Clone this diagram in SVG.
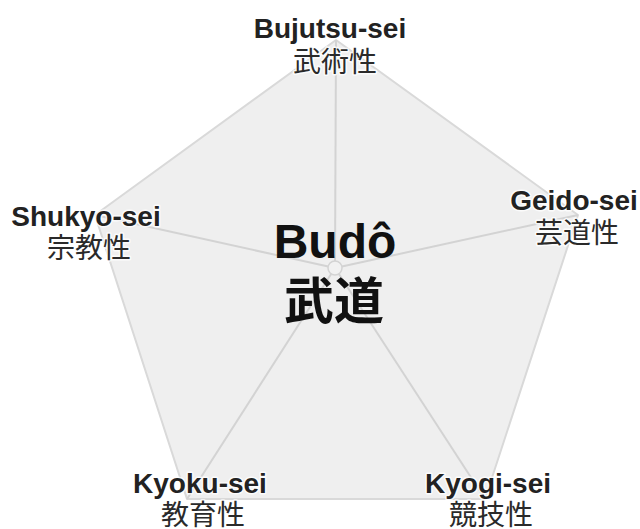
<svg xmlns="http://www.w3.org/2000/svg" width="640" height="529" viewBox="0 0 640 529">
  <style>
    .bg { fill: #ffffff; }
    .pent { fill: #efefef; stroke: #d9d9d9; stroke-width: 2; stroke-linejoin: round; }
    .spoke { stroke: #d3d3d3; stroke-width: 2; fill: none; }
    .hub { fill: #f1f1f1; stroke: #d3d3d3; stroke-width: 1.5; }
    .en { font-family: "Liberation Sans", Arial, sans-serif; font-weight: bold; font-size: 28px; fill: #222222; text-anchor: middle; paint-order: stroke; stroke: #ffffff; stroke-opacity: 0.8; stroke-width: 3; stroke-linejoin: round; }
    .jp { font-family: "Noto Sans CJK JP", "Noto Sans CJK SC", sans-serif; font-size: 28px; fill: #2a2a2a; text-anchor: middle; paint-order: stroke; stroke: #ffffff; stroke-opacity: 0.8; stroke-width: 3; stroke-linejoin: round; }
    .title-en { font-family: "Liberation Sans", Arial, sans-serif; font-weight: bold; font-size: 48px; fill: #111111; text-anchor: middle; }
    .title-jp { font-family: "Noto Sans CJK JP", "Noto Sans CJK SC", sans-serif; font-weight: bold; font-size: 50px; fill: #111111; text-anchor: middle; }
  </style>
  <rect class="bg" x="0" y="0" width="640" height="529"/>
  <polygon id="pentagon" class="pent" points="336,40 578,215 485,499 187,499 95,215"/>
  <g id="connectors">
    <line class="spoke" x1="335" y1="268" x2="336" y2="40"/>
    <line class="spoke" x1="335" y1="268" x2="578" y2="215"/>
    <line class="spoke" x1="335" y1="268" x2="485" y2="499"/>
    <line class="spoke" x1="335" y1="268" x2="187" y2="499"/>
    <line class="spoke" x1="335" y1="268" x2="95" y2="215"/>
    <circle class="hub" cx="335" cy="268" r="7"/>
  </g>
  <g id="node-budo">
    <text class="title-en" x="335" y="258">Budô</text>
    <text class="title-jp" x="334" y="319">武道</text>
  </g>
  <g id="node-bujutsu">
    <text class="en" x="330" y="38">Bujutsu-sei</text>
    <text class="jp" x="335" y="72">武術性</text>
  </g>
  <g id="node-geido">
    <text class="en" x="574" y="210">Geido-sei</text>
    <text class="jp" x="577" y="243">芸道性</text>
  </g>
  <g id="node-shukyo">
    <text class="en" x="86" y="226">Shukyo-sei</text>
    <text class="jp" x="89" y="258">宗教性</text>
  </g>
  <g id="node-kyoku">
    <text class="en" x="200" y="493">Kyoku-sei</text>
    <text class="jp" x="203" y="525">教育性</text>
  </g>
  <g id="node-kyogi">
    <text class="en" x="488" y="493">Kyogi-sei</text>
    <text class="jp" x="491" y="525">競技性</text>
  </g>
</svg>
